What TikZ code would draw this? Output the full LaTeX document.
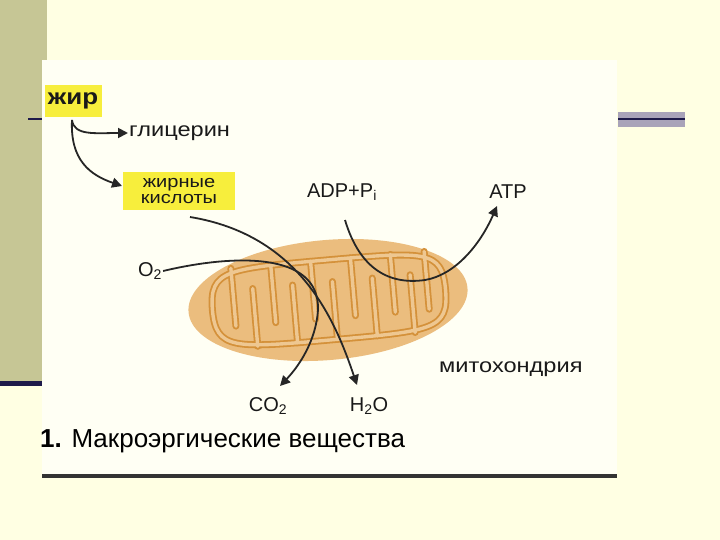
\documentclass[tikz,border=0pt]{standalone}
\usepackage{fontspec}
\setmainfont{Liberation Sans}
\usetikzlibrary{arrows.meta}
\definecolor{bgc}{HTML}{FFFFE3}
\definecolor{olive}{HTML}{C6C695}
\definecolor{navy}{HTML}{1E1A4A}
\definecolor{barg}{HTML}{A9A3B9}
\definecolor{hl}{HTML}{F7EE3C}
\definecolor{mfill}{HTML}{EBBD7E}
\definecolor{mline}{HTML}{D4913A}
\newcommand{\wdr}[1]{\scalebox{1.18}[1]{#1}}
\tikzset{
 lab/.style={font=\fontsize{20}{20}\selectfont, inner sep=1pt, text=black!90},
 hlbox/.style={fill=hl, inner sep=2pt, align=center, text=black!90},
 flow/.style={line width=1.8pt, black!85, -{Triangle[length=10pt,width=10pt]}},
 memo/.style={line width=7pt, mline, line cap=round, line join=round},
 memi/.style={line width=3.4pt, mfill!85!white, line cap=round, line join=round}
}
\begin{document}
\begin{tikzpicture}[x=1pt,y=-1pt]
\useasboundingbox (0,0) rectangle (720,540);
\fill[bgc] (0,0) rectangle (720,540);
\fill[olive] (0,0) rectangle (47,385);
\fill[navy] (0,381) rectangle (45,386);
\fill[white!60!bgc] (42,60) rectangle (617,478);
\fill[barg] (618,112) rectangle (685,127);
\draw[navy, line width=2pt] (618,119.5) -- (685,119.5);
\draw[navy, line width=1.5pt] (28,119) -- (42,119);
\fill[black!80] (42,474) rectangle (617,478);
% mitochondrion
\begin{scope}[rotate around={5:(328,300)}]
\fill[mfill] (328,300) ellipse [x radius=140, y radius=60];
\foreach \s in {memo,memi}{
 \draw[\s] (212,300) .. controls (212,260) and (230,260) .. (328,260)
   .. controls (430,260) and (446,260) .. (446,300)
   .. controls (446,340) and (430,340) .. (328,340)
   .. controls (230,340) and (212,340) .. (212,300) -- cycle;
 \foreach \x in {234,274,314,354,394,428} \draw[\s] (\x,260) -- (\x,318);
 \foreach \x in {254,294,334,374,412} \draw[\s] (\x,340) -- (\x,282);
}
\end{scope}
% labels
\node[hlbox, font=\fontsize{22}{22}\selectfont\bfseries, minimum width=57pt, minimum height=32pt] (zhir) at (73,101) {\wdr{жир}};
\node[lab, anchor=west] (glic) at (128,133) {\wdr{глицерин}};
\node[hlbox, font=\fontsize{17}{16}\selectfont, minimum width=112pt, minimum height=38pt] (zk) at (179,191) {\wdr{жирные}\\\wdr{кислоты}};
\node[lab] (adp) at (342,192) {ADP+P\textsubscript{i}};
\node[lab] (atp) at (508,192) {ATP};
\node[lab] (o2) at (150,271) {O\textsubscript{2}};
\node[lab] (co2) at (268,406) {CO\textsubscript{2}};
\node[lab] (h2o) at (369,406) {H\textsubscript{2}O};
\node[lab, anchor=west] (mito) at (438,369) {\wdr{митохондрия}};
\node[anchor=west, inner sep=0pt, font=\fontsize{26}{26}\selectfont] (title) at (40,441) {\textbf{1.} Макроэргические вещества};
% arrows
\coordinate (zs) at (72,120);
\draw[flow] (zs) .. controls (74,136) and (95,133) .. (glic.west);
\draw[flow] (zs) .. controls (70,160) and (90,175) .. (122,186);
\draw[flow] (190,217) .. controls (300,235) and (335,320) .. (357,385);
\draw[flow] (o2.east) .. controls (230,255) and (320,250) .. (318,310) .. controls (316,340) and (300,365) .. (280,386);
\draw[flow] (345,220) .. controls (360,270) and (390,285) .. (425,280) .. controls (455,275) and (480,245) .. (497,206);
\end{tikzpicture}
\end{document}
